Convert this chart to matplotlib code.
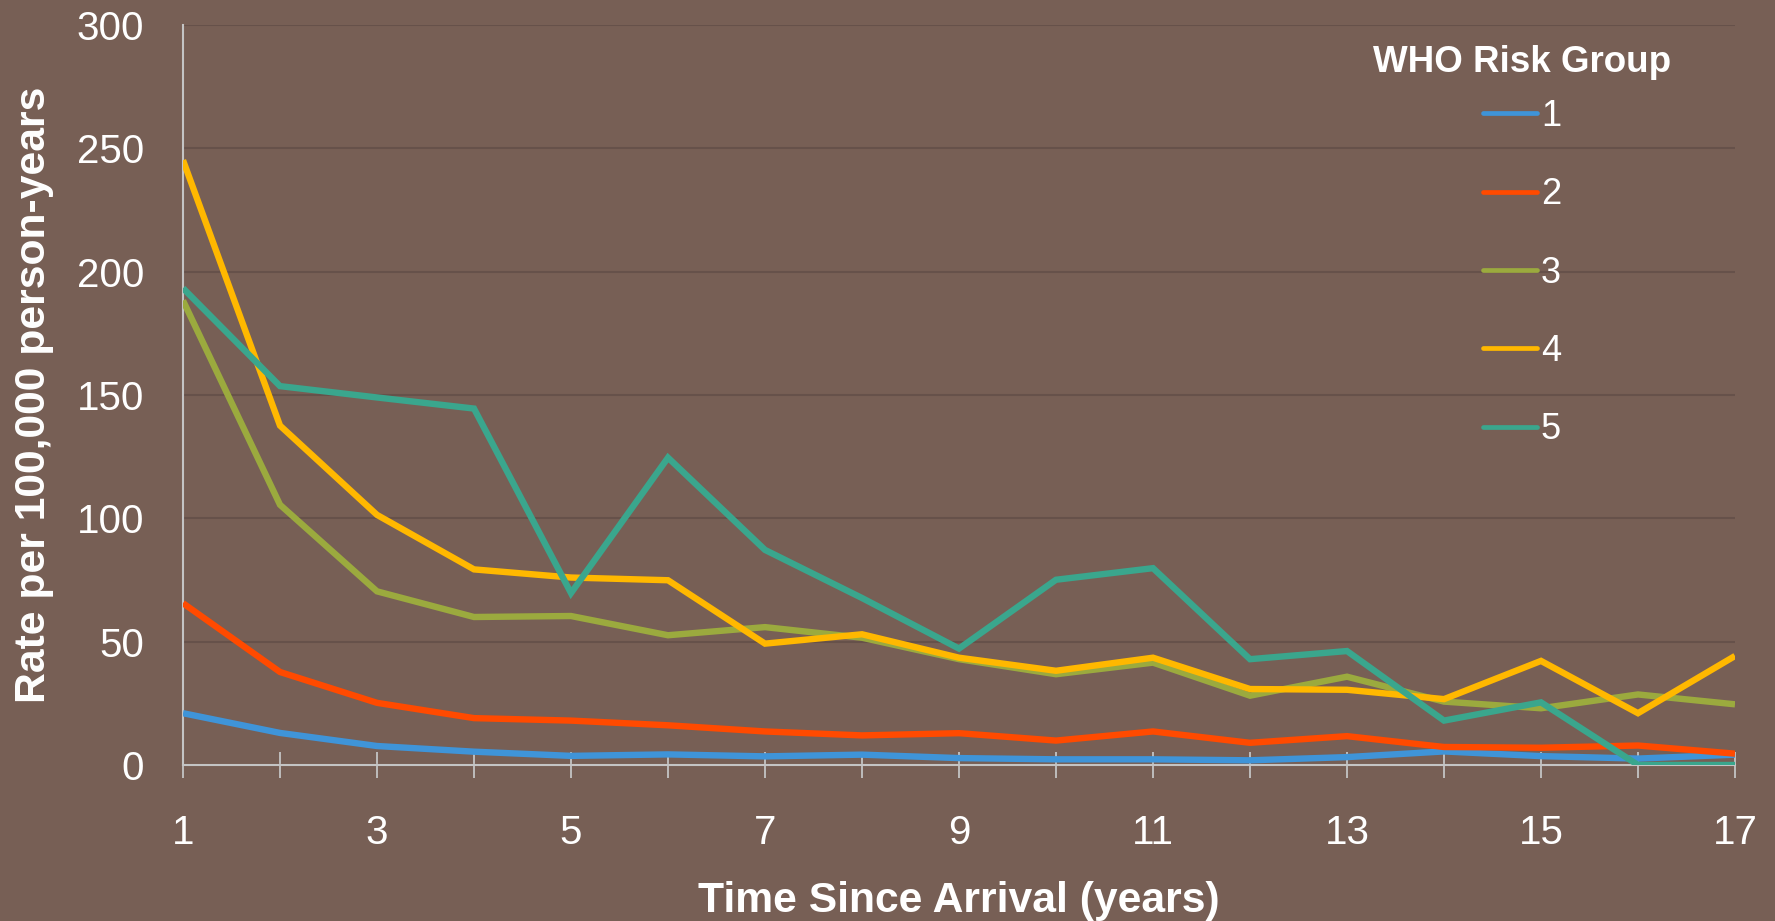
import matplotlib
matplotlib.use("Agg")
import matplotlib.pyplot as plt

plt.rcParams["font.family"] = ["Liberation Sans", "DejaVu Sans"]

# Incidence rate by years since arrival, per WHO risk group
years = list(range(1, 18))
group_labels = ["1", "2", "3", "4", "5"]
rate_g1 = [21.0, 13.0, 7.7, 5.4, 3.7, 4.3, 3.5, 4.2, 2.8, 2.3, 2.3, 1.9, 3.2, 5.5, 3.6, 2.6, 4.2]
rate_g2 = [65.6, 37.7, 25.2, 19.0, 18.0, 16.1, 13.6, 12.0, 12.9, 9.9, 13.6, 9.0, 11.7, 7.3, 7.0, 7.9, 4.6]
rate_g3 = [188.3, 105.5, 70.4, 60.0, 60.4, 52.6, 55.9, 51.6, 42.9, 36.8, 41.5, 28.1, 35.8, 25.7, 23.0, 28.6, 24.6]
rate_g4 = [245.2, 137.6, 101.4, 79.3, 76.0, 74.9, 49.2, 53.0, 43.5, 38.2, 43.5, 30.8, 30.5, 26.7, 42.2, 21.0, 44.2]
rate_g5 = [193.3, 153.6, 149.0, 144.5, 69.7, 124.6, 87.2, 67.7, 47.2, 75.1, 79.8, 42.9, 46.2, 18.0, 25.4, 0.0, 0.0]
x_tick_labels = ["1", "3", "5", "7", "9", "11", "13", "15", "17"]
y_ticks = [0, 50, 100, 150, 200, 250, 300]

series = [rate_g1, rate_g2, rate_g3, rate_g4, rate_g5]
colors = ["#3F94D8", "#FF4A00", "#9BAA3E", "#FFB800", "#3AA68D"]

bg = "#775F55"
grid_c = "#66514A"
axis_c = "#C4C4C4"
text_c = "white"

fig = plt.figure(figsize=(17.75, 9.21), dpi=100, facecolor=bg)
ax = fig.add_axes([183 / 1775, 1 - 765 / 921, 1552 / 1775, 740 / 921])
ax.set_facecolor(bg)

for vals, col, lab in zip(series, colors, group_labels):
    ax.plot(years, vals, color=col, lw=4.6, label=lab,
            solid_joinstyle="miter", solid_capstyle="butt")

ax.set_xlim(1, 17)
ax.set_ylim(0, 300)
ax.set_xticks(years)
ax.set_xticklabels([str(y) if str(y) in x_tick_labels else "" for y in years])
ax.set_yticks(y_ticks)

ax.grid(axis="y", color=grid_c, lw=1.5)
ax.set_axisbelow(True)

for s in ["top", "right"]:
    ax.spines[s].set_visible(False)
for s in ["left", "bottom"]:
    ax.spines[s].set_color(axis_c)
    ax.spines[s].set_linewidth(1.5)
    ax.spines[s].set_zorder(1.5)

ax.tick_params(axis="x", direction="inout", length=18.5, width=1.3,
               color=axis_c, labelsize=29, labelcolor=text_c, pad=26)
ax.tick_params(axis="y", length=0, labelsize=29, labelcolor=text_c, pad=28)

ax.set_xlabel("Time Since Arrival (years)", fontsize=30.7, fontweight="bold",
              color=text_c)
ax.xaxis.set_label_coords(0.5, -0.157)
ax.set_ylabel("Rate per 100,000 person-years", fontsize=30.7, fontweight="bold",
              color=text_c)
ax.yaxis.set_label_coords((54 - 183) / 1552, 0.5)

# Legend heading, centred over the entries
fig.text(1522 / 1775, 1 - 72 / 921, "WHO Risk Group", ha="center", va="baseline",
         fontsize=26.5, fontweight="bold", color=text_c)

leg = ax.legend(loc="upper center",
                bbox_to_anchor=(1522 / 1775, 1 - 81 / 921),
                bbox_transform=fig.transFigure,
                frameon=False, fontsize=26, labelcolor=text_c,
                handlelength=1.5, handletextpad=0.1, labelspacing=1.2,
                borderpad=0)
for h in leg.get_lines():
    h.set_linewidth(3.4)
    h.set_solid_capstyle("round")

fig.savefig("out.png", dpi=100, facecolor=bg)
